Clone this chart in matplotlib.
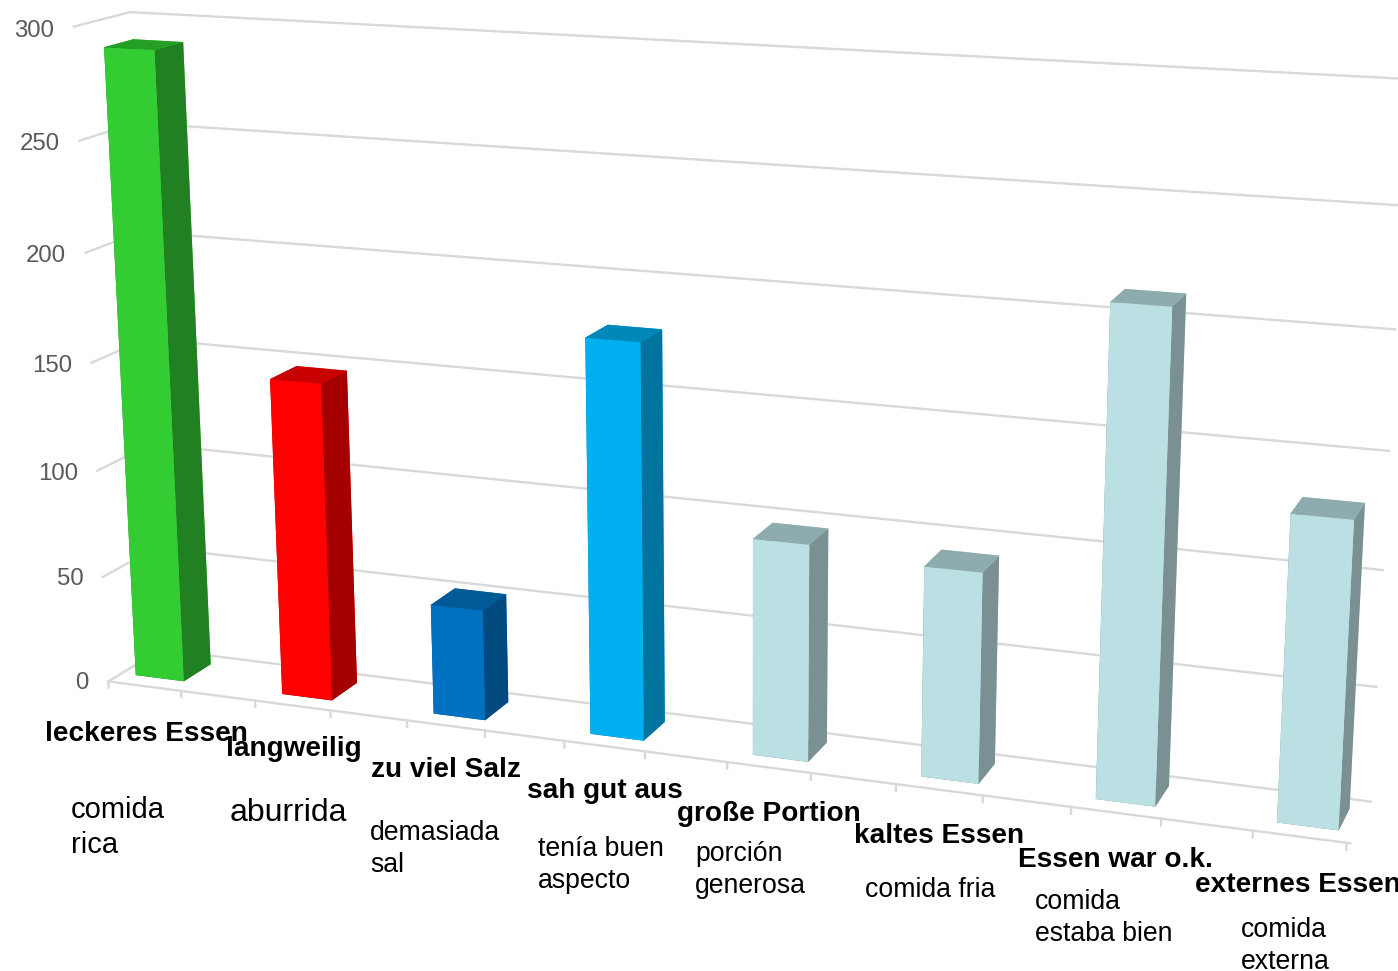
import numpy as np
import matplotlib
matplotlib.use("Agg")
import matplotlib.pyplot as plt

plt.rcParams['font.family'] = ['Liberation Sans', 'DejaVu Sans']

W, H = 1398, 971

# data
categories = ["leckeres Essen", "langweilig", "zu viel Salz", "sah gut aus",
              "große Portion", "kaltes Essen", "Essen war o.k.", "externes Essen"]
values = [289.7, 146.7, 50.7, 177.7, 96.7, 92.6, 210.6, 130.6]
yticks = [0, 50, 100, 150, 200, 250, 300]
translations = [["comida", "rica"], ["aburrida"], ["demasiada", "sal"], ["tenía buen", "aspecto"],
                ["porción", "generosa"], ["comida fria"], ["comida", "estaba bien"], ["comida", "externa"]]

# colours of each bar: front, right side, top
frontColors = ['#33CC33', '#FF0000', '#0070C0', '#00B0F0'] + ['#BBE0E3'] * 4
sideColors = ['#218021', '#A50000', '#004A80', '#00749E'] + ['#7A9092'] * 4
topColors = ['#25A025', '#C80000', '#005A96', '#0088BA'] + ['#8EABAD'] * 4

# bar footprint inside a category and the end of the floor
barLeft, barRight = 0.0977, 0.4299
barFront, barBack = 0.2495, 0.7745
xEnd = 7.52

# camera fitted to the picture: data (x, y, z) to pixels from the top left
camera = np.array([[142.4962, 57.1452, -0.1278685, 108.3417],
                   [7.368092, -13.41139, -2.187299, 681.4485],
                   [-0.01678208, 0.02870487, -0.0001710271, 1]])

# text positions in pixels
ytickX = [89, 84, 78, 72, 66, 60, 54]
ytickY = [683, 579, 474, 366, 256, 144, 31]
categoryX = [45, 226, 371, 527, 677, 854, 1018, 1195]
categoryY = [734, 749, 770, 791, 814, 836, 860, 885]
translationX = [71, 230, 370, 538, 695, 865, 1035, 1241]
translationY = [810, 813, 833, 849, 854, 890, 902, 930]
translationGap = [35, 0, 32, 32, 32, 0, 32, 32]
translationSize = [21, 23, 19.2, 19.2, 19.2, 19.2, 19.2, 19.2]

fig = plt.figure(figsize=(W / 100, H / 100), dpi=100)
ax = fig.add_axes([0, 0, 1, W / H], projection='3d')
ax.apply_aspect()

# replace the view matrix of the 3d axes by the fitted camera
flip = np.array([[1, 0, 0], [0, -1, H], [0, 0, 1]], float)
view = np.linalg.inv(ax.transData.get_matrix()) @ flip @ camera
M = np.vstack([view[0], view[1], [0, 0, 0, -1], view[2]])
ax.get_proj = lambda: M

ax.set_axis_off()
ax.patch.set_visible(False)
ax.computed_zorder = False
ax.set_autoscale_on(False)

grid = dict(color='#D9D9D9', lw=1.7, clip_on=False, zorder=1)
for z in yticks:
    ax.plot([0, 0, xEnd], [0, 1, 1], [z, z, z], **grid)
ax.plot([0, xEnd], [0, 0], [0, 0], **grid)
for k in range(16):
    ax.plot([k / 2, k / 2], [0, 0], [0, -3], **grid)

for i, v in enumerate(values):
    cols = [sideColors[i], topColors[i], frontColors[i], frontColors[i], sideColors[i], sideColors[i]]
    ax.bar3d(i + barLeft, barFront, 0, barRight - barLeft, barBack - barFront, v,
             color=cols, shade=False, zorder=5 + i, clip_on=False, edgecolor='none')


def pixelText(x, y, s, **kwargs):
    fig.text(x / W, 1 - y / H, s, va='center', **kwargs)


for y, x, t in zip(ytickY, ytickX, yticks):
    pixelText(x, y, str(t), ha='right', fontsize=17.3, color='#595959')

for i, name in enumerate(categories):
    pixelText(categoryX[i], categoryY[i], name, fontsize=20.2, fontweight='bold', color='black')
    for j, part in enumerate(translations[i]):
        pixelText(translationX[i], translationY[i] + j * translationGap[i], part,
                  fontsize=translationSize[i], color='black')

fig.savefig("out.png")
